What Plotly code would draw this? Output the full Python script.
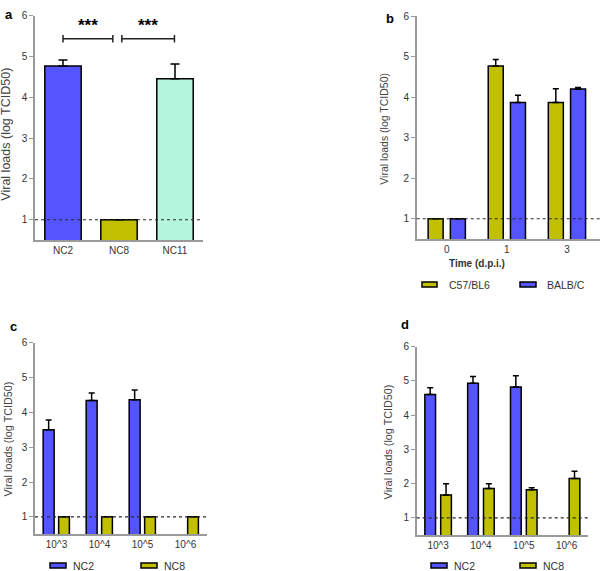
import plotly.graph_objects as go

# ---------------- data ----------------
a_cats = ["NC2", "NC8", "NC11"]
a_vals = [4.77, 1.0, 4.46]
a_errs = [0.15, 0.0, 0.36]
a_colors = ["#5555FF", "#C0C000", "#B4F5DE"]

b_cats = ["0", "1", "3"]
b_c57 = [1.0, 4.77, 3.87]
b_c57_err = [0.0, 0.16, 0.34]
b_balb = [1.0, 3.87, 4.20]
b_balb_err = [0.0, 0.18, 0.04]

dose_cats = ["10^3", "10^4", "10^5", "10^6"]
c_nc2 = [3.50, 4.34, 4.36, None]
c_nc2_err = [0.28, 0.22, 0.28, None]
c_nc8 = [1.0, 1.0, 1.0, 1.0]
c_nc8_err = [0.0, 0.0, 0.0, 0.0]

d_nc2 = [4.60, 4.93, 4.82, None]
d_nc2_err = [0.20, 0.20, 0.33, None]
d_nc8 = [1.67, 1.86, 1.82, 2.15]
d_nc8_err = [0.33, 0.14, 0.06, 0.21]

detection_limit = 1.0
y_ticks = [1, 2, 3, 4, 5, 6]

sig_brackets = [(0.0, 0.89), (1.05, 1.99)]
sig_level = 5.44
sig_star_level = 5.76
sig_label = "***"

BLUE = "#5555FF"
OLIVE = "#C0C000"

fig = go.Figure()


def bar(x, y, err, color, xa, ya, offset, width, capw):
    fig.add_trace(go.Bar(
        x=x, y=y, xaxis=xa, yaxis=ya, offset=offset, width=width,
        marker=dict(color=color, line=dict(color="black", width=1.5)),
        error_y=dict(type="data", array=err, arrayminus=[0] * len(err),
                     symmetric=False, color="black", thickness=1.5, width=capw),
        showlegend=False, base=0,
    ))


# panel a
fig.add_trace(go.Bar(
    x=a_cats, y=a_vals, xaxis="x", yaxis="y", width=0.65,
    marker=dict(color=a_colors, line=dict(color="black", width=1.5)),
    error_y=dict(type="data", array=a_errs, arrayminus=[0, 0, 0], symmetric=False,
                 color="black", thickness=1.5, width=4.5),
    showlegend=False,
))
# panel b
bar(b_cats, b_c57, b_c57_err, OLIVE, "x2", "y2", -0.31, 0.25, 3)
bar(b_cats, b_balb, b_balb_err, BLUE, "x2", "y2", 0.06, 0.25, 3)
# panel c
bar(dose_cats, c_nc2, c_nc2_err, BLUE, "x3", "y3", -0.31, 0.255, 3)
bar(dose_cats, c_nc8, c_nc8_err, OLIVE, "x3", "y3", 0.05, 0.25, 3)
# panel d
bar(dose_cats, d_nc2, d_nc2_err, BLUE, "x4", "y4", -0.31, 0.25, 3)
bar(dose_cats, d_nc8, d_nc8_err, OLIVE, "x4", "y4", 0.06, 0.25, 3)

W, H = 600, 571


def px_x(p):
    return p / W


def px_y(p):
    return 1 - p / H


AX = "#9a9a9a"
TXT = "#333333"
tickfont = dict(family="Liberation Sans, Arial", size=10, color=TXT)


def xaxis(domain, anchor, rng):
    return dict(domain=domain, anchor=anchor, range=rng, type="category",
                showline=True, linecolor=AX, linewidth=1.5, ticks="",
                showgrid=False, zeroline=False, tickfont=tickfont, fixedrange=True)


def yaxis(domain, anchor):
    return dict(domain=domain, anchor=anchor, range=[0.5, 6], tickvals=y_ticks,
                showline=True, linecolor=AX, linewidth=1.5, ticks="outside",
                ticklen=4, tickcolor=AX, tickwidth=1.2, showgrid=False,
                zeroline=False, tickfont=tickfont, fixedrange=True)


fig.update_layout(
    width=W, height=H, margin=dict(l=0, r=0, t=0, b=0),
    paper_bgcolor="white", plot_bgcolor="white", barmode="overlay",
    font=dict(family="Liberation Sans, Arial", color=TXT),
    xaxis=xaxis([px_x(35), px_x(203)], "y", [-0.5, 2.5]),
    yaxis=yaxis([px_y(236.6), px_y(10)], "x"),
    xaxis2=xaxis([px_x(416.7), 1.0], "y2", [-0.5, 2.55]),
    yaxis2=yaxis([px_y(235.5), px_y(10.3)], "x2"),
    xaxis3=xaxis([px_x(35), px_x(207)], "y3", [-0.5, 3.5]),
    yaxis3=yaxis([px_y(533.9), px_y(340.3)], "x3"),
    xaxis4=xaxis([px_x(416.7), px_x(588)], "y4", [-0.5, 3.5]),
    yaxis4=yaxis([px_y(534.6), px_y(344.3)], "x4"),
)

shapes = []
annotations = []

# detection limit dotted lines
for xs, ys in [("x", "y"), ("x2", "y2"), ("x3", "y3"), ("x4", "y4")]:
    shapes.append(dict(type="line", xref=xs + " domain", yref=ys, x0=0, x1=1,
                       y0=detection_limit, y1=detection_limit,
                       line=dict(color="#2a2a2a", width=1.2, dash="dot"), layer="above"))

# significance brackets (panel a)
for (x0, x1) in sig_brackets:
    shapes.append(dict(type="line", xref="x", yref="y", x0=x0, x1=x1, y0=sig_level, y1=sig_level,
                       line=dict(color="#222222", width=1.5)))
    for xe in (x0, x1):
        shapes.append(dict(type="line", xref="x", yref="y", x0=xe, x1=xe,
                           y0=sig_level - 0.09, y1=sig_level + 0.09,
                           line=dict(color="#222222", width=1.5)))
    annotations.append(dict(x=(x0 + x1) / 2, y=sig_star_level, xref="x", yref="y",
                            text="<b>%s</b>" % sig_label, showarrow=False,
                            font=dict(size=17, color="black", family="Liberation Sans, Arial")))

# y-axis titles
ytitle = "Viral loads (log TCID50)"
for (x, y, s) in [(6, 130, 12.5), (384, 124, 10.5), (8, 438, 10.8), (388, 440, 10.8)]:
    annotations.append(dict(x=px_x(x), y=px_y(y), xref="paper", yref="paper",
                            text=ytitle, textangle=-90, showarrow=False,
                            xanchor="center", yanchor="middle",
                            font=dict(size=s, color="#444444", family="Liberation Sans, Arial")))

# panel letters
for (x, y, t) in [(9, 9, "a"), (390, 13, "b"), (13, 324, "c"), (405, 322, "d")]:
    annotations.append(dict(x=px_x(x), y=px_y(y), xref="paper", yref="paper", text="<b>%s</b>" % t,
                            showarrow=False, xanchor="center", yanchor="middle",
                            font=dict(size=13, color="black", family="Liberation Sans, Arial")))

# panel b x title
annotations.append(dict(x=px_x(507), y=px_y(260), xref="paper", yref="paper",
                        text="<b>Time (d.p.i.)</b>", showarrow=False,
                        font=dict(size=10, color="#333333", family="Liberation Sans, Arial")))

# legends
legends = [
    (281.5, [(422, 437, 447, OLIVE, "C57/BL6"), (520, 536, 545, BLUE, "BALB/C")]),
    (565.5, [(50, 66, 71, BLUE, "NC2"), (141, 157, 162, OLIVE, "NC8")]),
    (565.5, [(431, 447, 452, BLUE, "NC2"), (520, 536, 541, OLIVE, "NC8")]),
]
for yc, items in legends:
    for (bx0, bx1, tx, col, lab) in items:
        shapes.append(dict(type="rect", xref="paper", yref="paper",
                           x0=px_x(bx0), x1=px_x(bx1), y0=px_y(yc + 2.5), y1=px_y(yc - 2.5),
                           fillcolor=col, line=dict(color="black", width=1.5)))
        annotations.append(dict(x=px_x(tx), y=px_y(yc), xref="paper", yref="paper", text=lab,
                                showarrow=False, xanchor="left", yanchor="middle",
                                font=dict(size=10.5, color="#333333", family="Liberation Sans, Arial")))

fig.update_layout(shapes=shapes, annotations=annotations)
fig.write_html(
    "out.html",
    config={"displayModeBar": False},
    post_script="document.body.style.margin='0';document.body.style.padding='0';"
                "document.body.style.overflow='hidden';",
)
